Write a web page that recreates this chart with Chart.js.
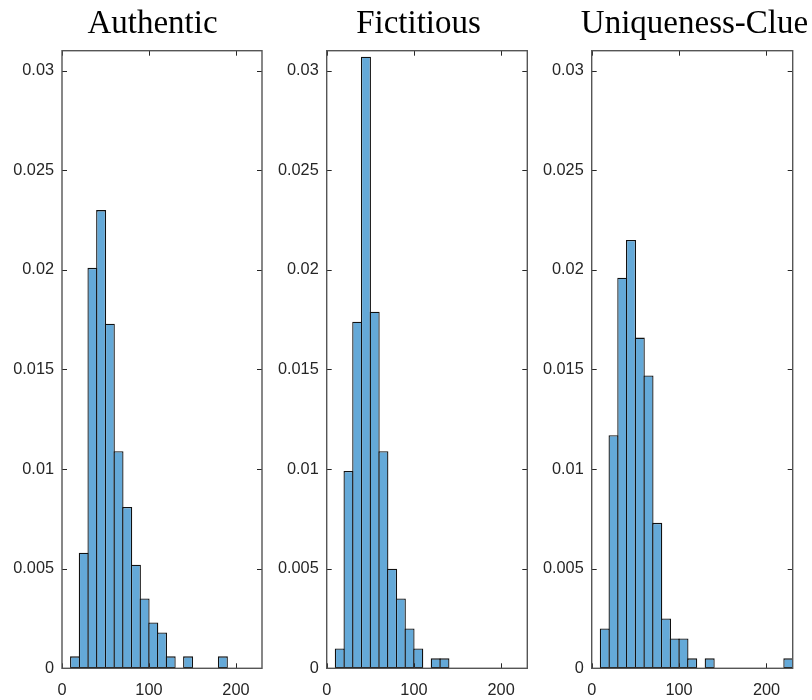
<!DOCTYPE html>
<html><head><meta charset="utf-8">
<script src="https://cdn.jsdelivr.net/npm/chart.js@4"></script>
<style>
html,body{margin:0;padding:0;background:#fff;width:812px;height:700px;overflow:hidden;position:relative}
canvas{position:absolute;top:0}
</style></head><body>
<canvas id="c1" width="305" height="700" style="left:0px;width:305px;height:700px"></canvas>
<canvas id="c2" width="297" height="700" style="left:270px;width:297px;height:700px"></canvas>
<canvas id="c3" width="329" height="700" style="left:530px;width:329px;height:700px"></canvas>
<script>
// Bin centres (bins of width 10, from 0 to 230)
const binCenters = [5,15,25,35,45,55,65,75,85,95,105,115,125,135,145,155,165,175,185,195,205,215,225];
// Probability-density values per bin
const authentic = [0,0.0006,0.0058,0.0201,0.0230,0.0173,0.0109,0.0081,0.0052,0.0035,0.0023,0.0018,0.0006,0,0.0006,0,0,0,0.0006,0,0,0,0];
const fictitious = [0,0.0010,0.0099,0.0174,0.0307,0.0179,0.0109,0.0050,0.0035,0.0020,0.0010,0,0.0005,0.0005,0,0,0,0,0,0,0,0,0];
const uniquenessClue = [0,0.0020,0.0117,0.0196,0.0215,0.0166,0.0147,0.0073,0.0025,0.0015,0.0015,0.0005,0,0.0005,0,0,0,0,0,0,0,0,0.0005];
const panelTitles = ['Authentic','Fictitious','Uniqueness-Clue'];
const xTicks = [0,100,200];
const xTickLabels = ['0','100','200'];
const yTicks = [0,0.005,0.01,0.015,0.02,0.025,0.03];
const yTickLabels = ['0','0.005','0.01','0.015','0.02','0.025','0.03'];
const xMax = 230;
const yMax = 0.031;

const boxPlugin = {
  id: 'matlabBox',
  afterDraw(chart) {
    const {ctx, chartArea: a, scales} = chart;
    const x = scales.x, y = scales.y;
    ctx.save();
    ctx.strokeStyle = '#262626';
    ctx.lineWidth = 1;
    ctx.beginPath();
    yTicks.forEach(v => {
      const py = Math.round(y.getPixelForValue(v)) + 0.5;
      ctx.moveTo(a.left, py); ctx.lineTo(a.left + 5, py);
      ctx.moveTo(a.right, py); ctx.lineTo(a.right - 5, py);
    });
    xTicks.forEach(v => {
      const px = Math.round(x.getPixelForValue(v)) + 0.5;
      ctx.moveTo(px, a.top); ctx.lineTo(px, a.top + 5);
      ctx.moveTo(px, a.bottom); ctx.lineTo(px, a.bottom - 5);
    });
    ctx.stroke();
    ctx.strokeStyle = '#555555';
    ctx.lineWidth = 1.4;
    ctx.strokeRect(a.left, a.top, a.right - a.left, a.bottom - a.top);
    ctx.restore();
  }
};

const tickFont = {family: '"Liberation Sans", Arial, Helvetica, sans-serif', size: 16.3};

function makePanel(id, title, values, leftW, rightW) {
  new Chart(document.getElementById(id), {
    type: 'bar',
    data: {
      datasets: [{
        data: binCenters.map((c, i) => ({x: c, y: values[i]})),
        backgroundColor: '#64a9d8',
        borderColor: '#111111',
        borderWidth: 1.3,
        borderSkipped: false,
        inflateAmount: 0,
        barPercentage: 1.15,
        categoryPercentage: 1
      }]
    },
    options: {
      responsive: false,
      devicePixelRatio: 1,
      animation: false,
      layout: {padding: 0},
      plugins: {
        legend: {display: false},
        tooltip: {enabled: false},
        title: {
          display: true,
          text: title,
          color: '#000',
          font: {family: '"Liberation Serif", "Times New Roman", serif', size: 33, weight: 'normal'},
          padding: {top: 4.1, bottom: 7.0}
        }
      },
      scales: {
        x: {
          type: 'linear', min: 0, max: xMax, offset: false,
          grid: {display: false, drawTicks: false, offset: false}, border: {display: false},
          afterBuildTicks: s => { s.ticks = xTicks.map(v => ({value: v})); },
          ticks: {padding: 12.4, color: '#262626', font: tickFont, maxRotation: 0, autoSkip: false,
                  callback: (v, i) => xTickLabels[i]},
          afterFit: s => { s.height = 31.7; }
        },
        y: {
          type: 'linear', min: 0, max: yMax, position: 'left',
          grid: {display: false, drawTicks: false}, border: {display: false},
          afterBuildTicks: s => { s.ticks = yTicks.map(v => ({value: v})); },
          ticks: {padding: 8, color: '#262626', font: tickFont, autoSkip: false,
                  callback: (v, i) => yTickLabels[i]},
          afterFit: s => { s.width = leftW; }
        },
        yR: {
          type: 'linear', position: 'right', display: true,
          grid: {display: false, drawTicks: false}, border: {display: false},
          ticks: {display: false},
          afterFit: s => { s.width = rightW; }
        }
      }
    },
    plugins: [boxPlugin]
  });
}

makePanel('c1', panelTitles[0], authentic, 62, 43);
makePanel('c2', panelTitles[1], fictitious, 56.7, 39.7);
makePanel('c3', panelTitles[2], uniquenessClue, 61.7, 66.3);
</script>
</body></html>
